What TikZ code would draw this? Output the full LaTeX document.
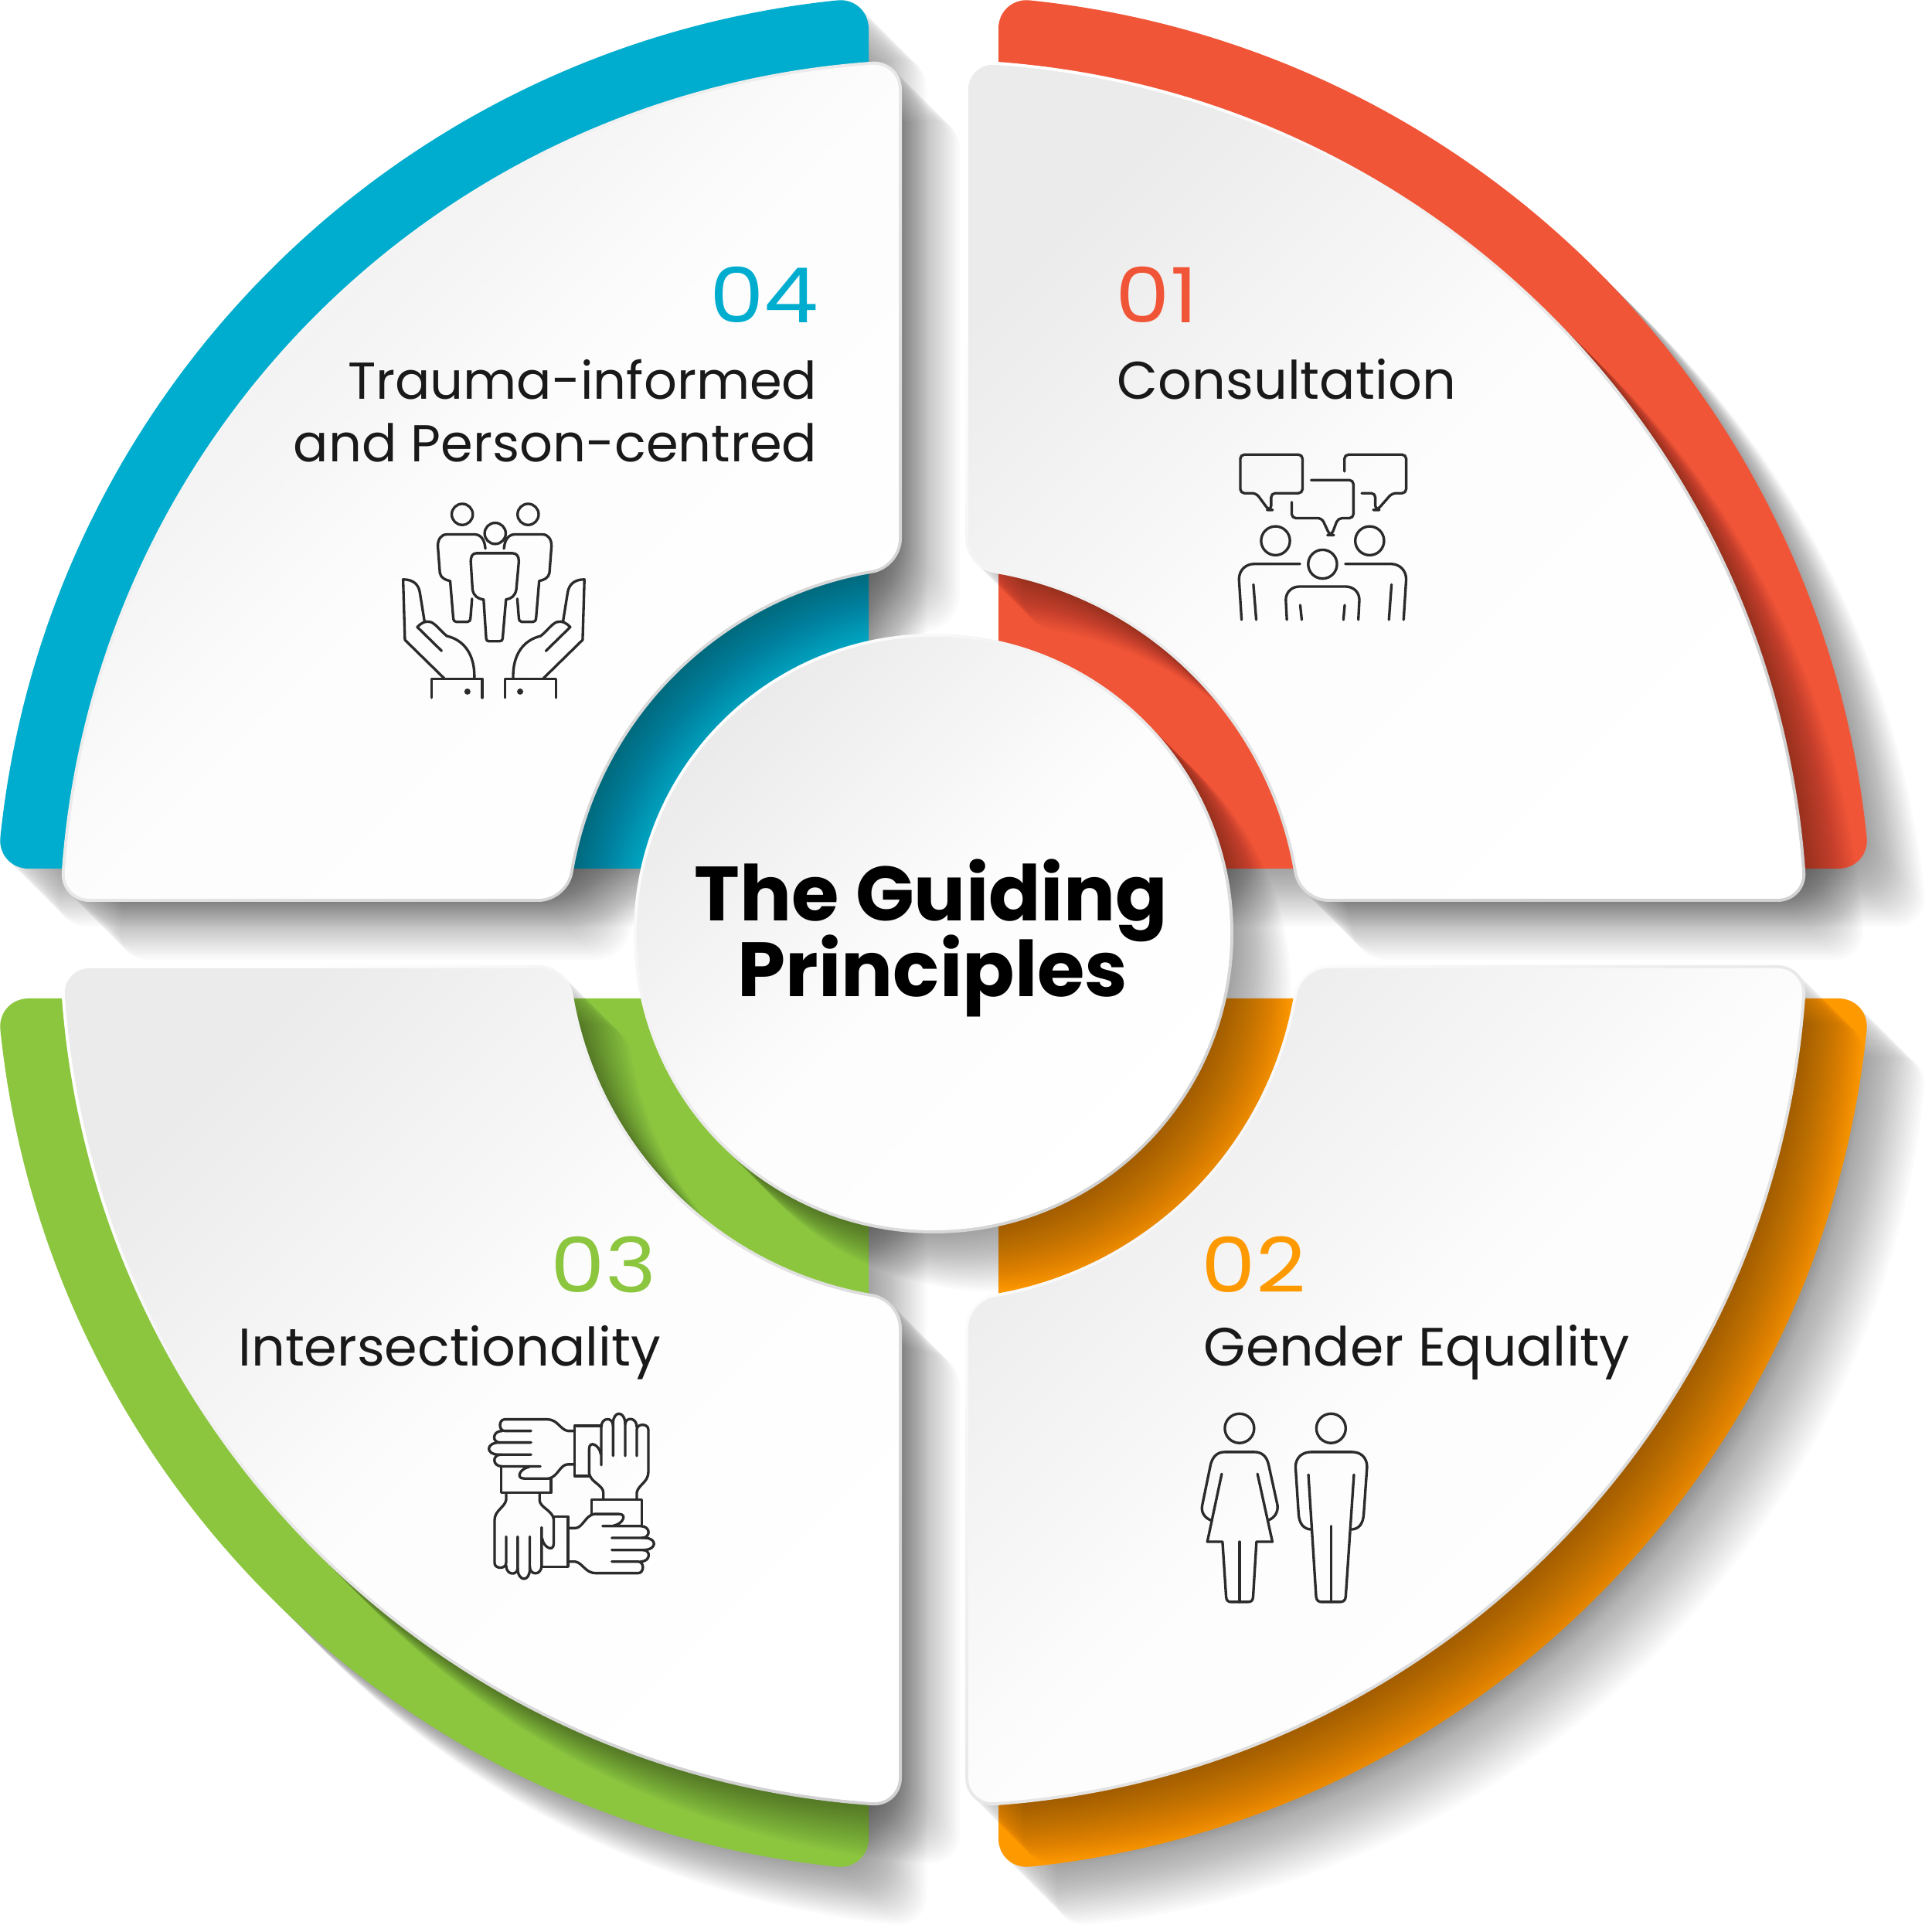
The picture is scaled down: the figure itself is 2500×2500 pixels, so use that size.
\documentclass[tikz,border=0pt]{standalone}
\usepackage{fontspec}
\setmainfont{Poppins}
\newfontfamily\numfont[FakeStretch=1.14]{Poppins}

\definecolor{ringred}{HTML}{F15537}
\definecolor{ringorange}{HTML}{FF9900}
\definecolor{ringgreen}{HTML}{8CC63F}
\definecolor{ringblue}{HTML}{00ADCE}
\definecolor{iconink}{HTML}{2B2B2B}

% quarter shapes, all drawn in the upper right and then turned
\newcommand{\ringpath}{(84,84) -- (84,1171.1) .. controls (84,1193.1) and (102,1209.5) .. (123.9,1207.6) arc[start angle=84.14,end angle=5.86,radius=1214] .. controls (1209.5,102) and (1193.1,84) .. (1171.1,84) -- cycle}
\newcommand{\cardpath}{(41,511.2) -- (41,1092.3) .. controls (41,1113.2) and (58,1129.3) .. (78.9,1128.2) arc[start angle=86,end angle=4,radius=1131] .. controls (1129.3,58) and (1113.2,41) .. (1092.3,41) -- (511.2,41) .. controls (489.2,41) and (468.9,58.9) .. (466.1,80.7) arc[start angle=9.82,end angle=80.18,radius=473] .. controls (58.9,468.9) and (41,489.2) .. (41,511.2) -- cycle}
\newcommand{\facepath}{(45,510.9) -- (45,1092.1) .. controls (45,1110.8) and (60.3,1125.3) .. (79,1124.2) arc[start angle=85.98,end angle=4.02,radius=1127] .. controls (1125.3,60.3) and (1110.8,45) .. (1092.1,45) -- (510.9,45) .. controls (491.1,45) and (472.7,61) .. (470.1,80.6) arc[start angle=9.73,end angle=80.27,radius=477] .. controls (61,472.7) and (45,491.1) .. (45,510.9) -- cycle}
\newcommand{\hubpath}{(0,0) circle[radius=388]}
\newcommand{\castshadow}[2]{\foreach \off in {3,6,...,75}{\fill[shadowfill,shift={(\off,-\off)},rotate=#2] #1;}}

\tikzset{
  shadowfill/.style={black,fill opacity=.015},
  cardedge/.style={shade,shading=axis,top color=white,bottom color=black!18,shading angle=45},
  cardface/.style={shade,shading=axis,top color=black!8,bottom color=white,middle color=black!1,shading angle=45},
  icon/.style={draw=iconink,line width=.95pt,line cap=round,line join=round},
  numlabel/.style={font=\numfont\fontsize{28}{30}\selectfont,inner sep=0pt},
  textlabel/.style={font=\fontsize{19.5}{24}\selectfont,text=black!90,inner sep=0pt},
  titlelabel/.style={font=\bfseries\fontsize{28.3}{30}\selectfont,text=black,inner sep=0pt,anchor=base}
}

\begin{document}
\begin{tikzpicture}[x=0.01cm,y=0.01cm]
    \useasboundingbox (-1208,-1292) rectangle (1292,1208);
    \fill[white] (-1208,-1292) rectangle (1292,1208);

    % Colour rings with their long shadows
    \foreach \ang/\col in {0/ringred,-90/ringorange,180/ringgreen,90/ringblue}{
        \castshadow{\ringpath}{\ang}
        \fill[\col,rotate=\ang] \ringpath;
    }

    % Shadows of hub and cards
    \castshadow{\hubpath}{0}
    \foreach \ang in {0,-90,180,90}{
        \castshadow{\cardpath}{\ang}
    }

    % Cards
    \foreach \ang in {0,-90,180,90}{
        \path[cardedge,rotate=\ang] \cardpath;
        \path[cardface,rotate=\ang] \facepath;
    }

    % Hub
    \path[cardedge] \hubpath;
    \path[cardface] (0,0) circle[radius=384];
    \node[titlelabel] (title1) at (-3,16) {The Guiding};
    \node[titlelabel] (title2) at (-1,-81) {Principles};

    % Labels
    \node[numlabel,text=ringred,anchor=base west] (num1) at (235,790) {01};
    \node[textlabel,anchor=base west] (lab1) at (237,691) {Consultation};
    \node[numlabel,text=ringorange,anchor=base west] (num2) at (346,-464) {02};
    \node[textlabel,font=\fontsize{19.85}{24}\selectfont,anchor=base west] (lab2) at (349,-559) {Gender Equality};
    \node[numlabel,text=ringgreen,anchor=base east] (num3) at (-358,-464) {03};
    \node[textlabel,anchor=base east] (lab3) at (-352,-559) {Intersectionality};
    \node[numlabel,text=ringblue,anchor=base east] (num4) at (-148,790) {04};
    \node[textlabel,font=\fontsize{19.1}{24}\selectfont,anchor=base east] (lab4a) at (-150,691) {Trauma-informed};
    \node[textlabel,font=\fontsize{19.1}{24}\selectfont,anchor=base east] (lab4b) at (-150,610) {and Person-centred};

    % Icon: talking people
    \begin{scope}[shift={(352,648)},x=0.003333cm,y=-0.003333cm,icon]
        \draw[rounded corners=1.5pt] (135,85) -- (377,85) -- (377,235) -- (255,235) -- (255,300) -- (245,300) -- (197,235) -- (135,235) -- cycle;
        \draw[rounded corners=1.5pt] (540,150) -- (540,85) -- (780,85) -- (780,235) -- (725,235) -- (668,300) -- (660,300) -- (660,235) -- (607,235);
        \draw[rounded corners=1.5pt] (410,184) -- (575,184) -- (575,332) -- (515,332) -- (490,398) -- (483,398) -- (452,332) -- (335,332) -- (335,270);
        \draw (272,420) circle[radius=56] (638,420) circle[radius=56] (455,511) circle[radius=56];
        \draw (140,727) -- (130,570) .. controls (130,535) and (155,510) .. (190,510) -- (367,510);
        \draw (770,727) -- (780,570) .. controls (780,535) and (755,510) .. (720,510) -- (543,510);
        \draw (186,590) -- (197,727) (723,590) -- (713,727);
        \draw (316,727) -- (312,650) .. controls (312,620) and (335,598) .. (365,598) -- (545,598) .. controls (575,598) and (598,620) .. (598,650) -- (594,727);
        \draw (368,670) -- (374,727) (541,670) -- (536,727);
    \end{scope}

    % Icon: hands holding people
    \begin{scope}[shift={(-708,578)},x=0.003333cm,y=-0.003333cm,icon]
        \draw (295,107) circle[radius=41] (551,107) circle[radius=41] (423,181) circle[radius=41];
        \foreach \sc/\off in {1/0,-1/842}{
            \begin{scope}[shift={(\off,0)},xscale=\sc]
                \draw (385,240) -- (382,222) .. controls (375,195) and (360,185) .. (345,185) -- (235,185) .. controls (212,185) and (200,205) .. (200,230) -- (208,335) .. controls (212,355) and (230,362) .. (248,366) -- (260,510) .. controls (261,520) and (265,525) .. (272,525) -- (315,525) .. controls (322,525) and (326,520) .. (327,510) -- (333,435);
            \end{scope}
        }
        \draw (350,258) -- (490,258) .. controls (507,258) and (515,270) .. (515,290) -- (505,400) .. controls (500,425) and (485,435) .. (465,438) -- (452,590) .. controls (451,597) and (448,600) .. (440,600) -- (398,600) .. controls (392,600) and (389,597) .. (388,590) -- (378,438) .. controls (355,435) and (340,425) .. (335,400) -- (328,290) .. controls (328,270) and (335,258) .. (350,258) -- cycle;
        \foreach \sc/\off in {1/0,-1/835}{
            \begin{scope}[shift={(\off,0)},xscale=\sc]
                \draw (225,745) -- (72,595) -- (65,360) .. controls (105,360) and (125,380) .. (130,410) -- (148,522);
                \draw (215,638) -- (120,545) .. controls (135,530) and (150,520) .. (170,525) .. controls (190,530) and (210,560) .. (235,580) .. controls (300,595) and (345,650) .. (342,745);
                \draw (175,820) -- (175,747) -- (373,747) -- (373,820);
                \fill[iconink] (315,796) circle[radius=12];
            \end{scope}
        }
    \end{scope}

    % Icon: four linked hands
    \begin{scope}[shift={(-598,-602)},x=0.003333cm,y=-0.003333cm,icon]
        \foreach \ang in {0,-90,-180,-270}{
            \begin{scope}[rotate around={\ang:(389,379)}]
                \draw (460,300) -- (402,300) -- (402,105) -- (500,105);
                \draw (402,125) -- (375,125) .. controls (345,120) and (335,80) .. (295,80) -- (130,80) .. controls (105,80) and (105,125) .. (130,125) -- (232,125);
                \draw (120,125) .. controls (80,125) and (80,170) .. (110,170) -- (232,170);
                \draw (110,170) .. controls (55,170) and (55,217) .. (105,217) -- (232,217);
                \draw (115,217) .. controls (80,217) and (80,263) .. (120,263) -- (268,263);
                \draw (225,265) .. controls (190,270) and (170,310) .. (205,310) -- (300,310) .. controls (335,305) and (345,255) .. (375,255) -- (402,255);
            \end{scope}
        }
    \end{scope}

    % Icon: woman and man
    \begin{scope}[shift={(322,-602)},x=0.003333cm,y=-0.003333cm,icon]
        \draw (222,115) circle[radius=57] (578,115) circle[radius=57];
        \draw (110,472) .. controls (85,462) and (72,440) .. (77,415) -- (110,255) .. controls (118,225) and (135,207) .. (165,207) -- (280,207) .. controls (310,207) and (328,225) .. (335,255) -- (370,415) .. controls (372,440) and (360,462) .. (335,472);
        \draw (153,292) -- (97,556) -- (156,556) -- (170,770) .. controls (171,785) and (178,790) .. (190,790) -- (255,790) .. controls (267,790) and (274,785) .. (275,770) -- (288,556) -- (350,556) -- (292,292);
        \draw (222,556) -- (222,790);
        \draw (498,508) .. controls (470,505) and (455,485) .. (452,450) -- (440,265) .. controls (440,230) and (465,207) .. (500,207) -- (660,207) .. controls (695,207) and (718,230) .. (718,265) -- (705,450) .. controls (702,485) and (688,505) .. (660,508);
        \draw (490,295) -- (520,770) .. controls (521,783) and (530,790) .. (540,790) -- (615,790) .. controls (625,790) and (634,783) .. (635,770) -- (667,295);
        \draw (578,495) -- (578,790);
    \end{scope}
\end{tikzpicture}
\end{document}
